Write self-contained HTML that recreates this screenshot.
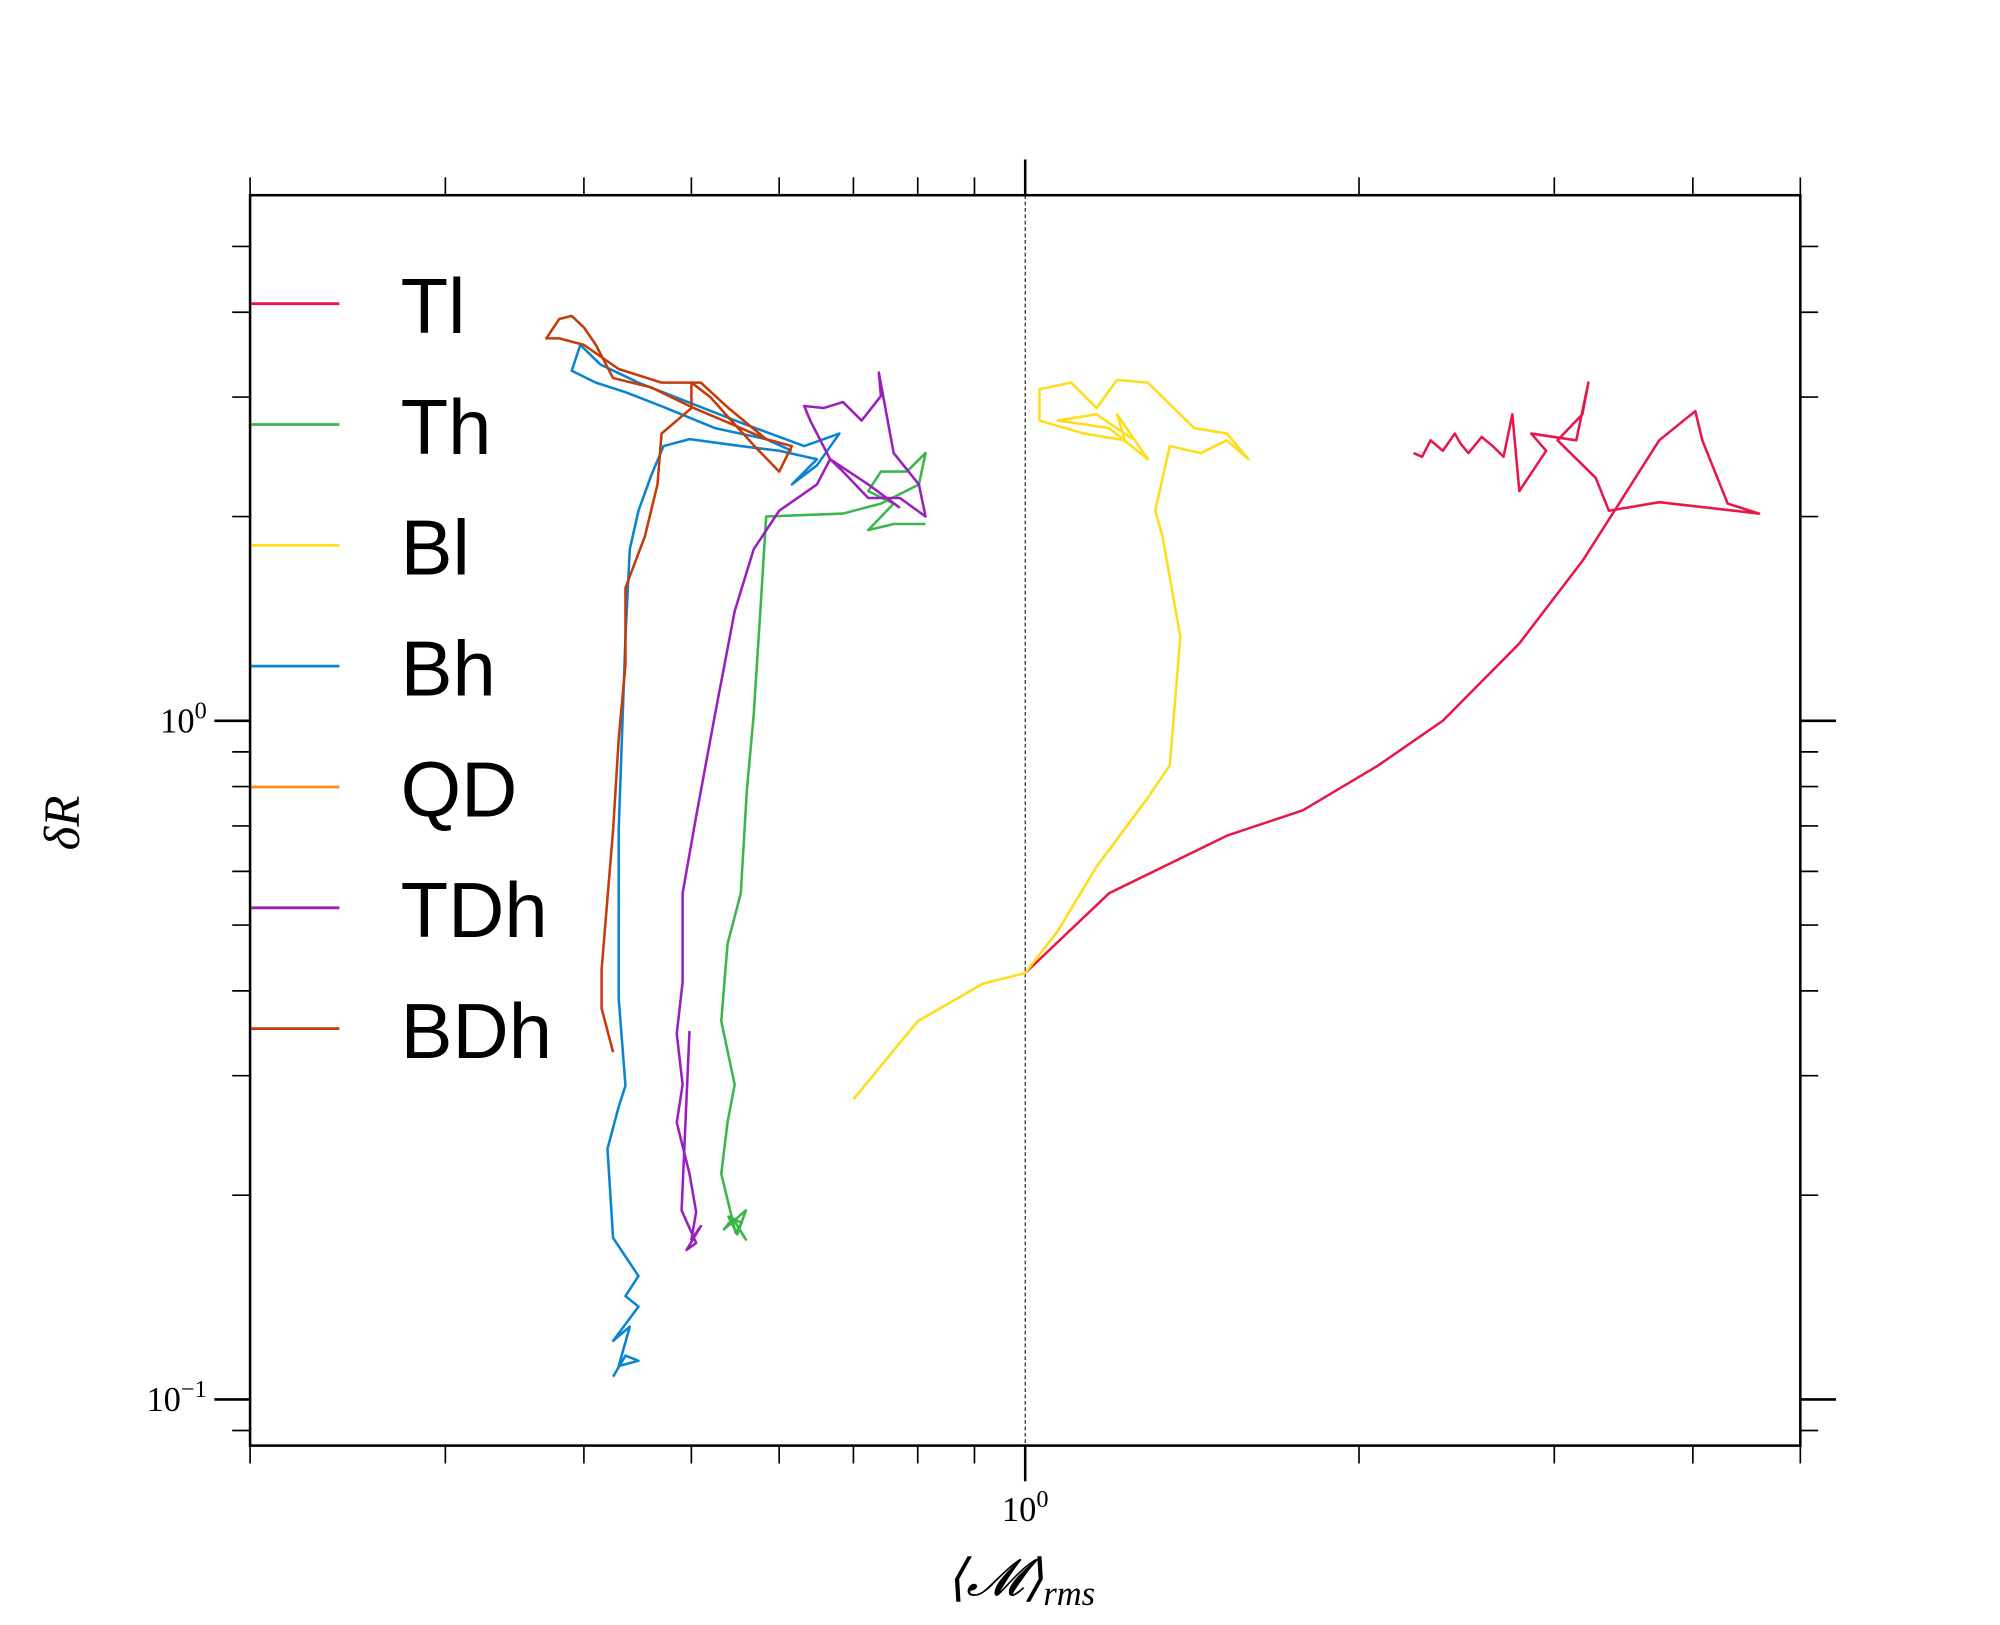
<!DOCTYPE html>
<html><head><meta charset="utf-8"><style>
html,body{margin:0;padding:0;background:#fff;}
svg{display:block;}
text{font-family:"Liberation Serif",serif;}
.leg{font-family:"Liberation Sans",sans-serif;font-size:61px;fill:#000;}
</style></head><body>
<svg id="chart" width="2000" height="1625" viewBox="0 0 1567.5 1273.6" xmlns="http://www.w3.org/2000/svg">
<rect x="0" y="0" width="1567.5" height="1273.6" fill="#fff"/>
<g id="plot"></g>
<g id="axes"></g>
<g id="legend"></g>
<text x="800" y="1250" text-anchor="middle" font-size="40" font-style="italic">⟨𝓜⟩<tspan font-size="27" dy="8">rms</tspan></text>
<text x="62" y="645" text-anchor="middle" font-size="40" font-style="italic" transform="rotate(-90 62 645)">δR</text>
</svg>
<script>
const xDomain=[0.2,5];
const yDomain=[0.0855,5.95];
const seriesNames=["Tl","Th","Bl","Bh","QD","TDh","BDh"];
const seriesColors=["#e8174a","#3cb64a","#ffdd1a","#0b84d0","#ff8c1a","#9b1fbd","#c43c0b"];
const tlM=[1.0,1.19,1.52,1.78,2.08,2.38,2.79,3.18,3.40,3.73,4.02,4.08,4.3,4.59,3.73,3.36,3.27,3.02,3.18,3.22,3.14,2.86,2.95,2.79,2.75,2.7,2.64,2.58,2.51,2.47,2.44,2.38,2.32,2.28,2.24];
const tlR=[0.425,0.557,0.677,0.738,0.859,1.0,1.30,1.72,2.04,2.59,2.86,2.59,2.09,2.02,2.10,2.04,2.28,2.59,2.83,3.15,2.59,2.65,2.5,2.18,2.83,2.45,2.54,2.62,2.48,2.56,2.65,2.5,2.59,2.45,2.48];
const thM=[0.55,0.56,0.545,0.535,0.56,0.55,0.54,0.555,0.548,0.532,0.539,0.547,0.532,0.539,0.554,0.561,0.569,0.577,0.584,0.685,0.741,0.802,0.813,0.782,0.741,0.722,0.761,0.722,0.761,0.813];
const thR=[0.18,0.172,0.185,0.178,0.19,0.175,0.186,0.182,0.176,0.215,0.256,0.291,0.361,0.469,0.557,0.788,1.02,1.45,2.0,2.02,2.09,2.23,2.48,2.33,2.33,2.18,2.09,1.91,1.95,1.95];
const blM=[0.70,0.80,0.916,1.0,1.07,1.16,1.29,1.35,1.38,1.33,1.31,1.35,1.44,1.52,1.59,1.52,1.42,1.29,1.21,1.16,1.10,1.03,1.03,1.13,1.23,1.21,1.29,1.19,1.07,1.16,1.25];
const blR=[0.277,0.361,0.41,0.425,0.49,0.61,0.77,0.86,1.33,1.87,2.04,2.54,2.48,2.59,2.43,2.65,2.70,3.15,3.18,2.89,3.15,3.08,2.77,2.65,2.59,2.83,2.43,2.7,2.77,2.83,2.6];
const bhM=[0.425,0.436,0.448,0.43,0.44,0.425,0.448,0.436,0.448,0.425,0.42,0.43,0.436,0.43,0.43,0.436,0.44,0.448,0.46,0.472,0.498,0.554,0.6,0.649,0.616,0.649,0.68,0.632,0.554,0.448,0.414,0.397,0.39,0.41,0.436,0.472,0.525,0.584,0.616];
const bhR=[0.108,0.116,0.114,0.112,0.128,0.122,0.137,0.142,0.152,0.173,0.234,0.27,0.29,0.39,0.69,1.33,1.79,2.04,2.3,2.54,2.6,2.54,2.5,2.43,2.23,2.38,2.65,2.54,2.75,3.15,3.35,3.58,3.28,3.15,3.05,2.9,2.7,2.6,2.5];
const qdM=[];
const qdR=[];
const tdM=[0.498,0.49,0.505,0.495,0.51,0.5,0.505,0.498,0.485,0.491,0.485,0.491,0.491,0.505,0.525,0.547,0.569,0.6,0.649,0.667,0.64,0.632,0.658,0.685,0.712,0.741,0.738,0.761,0.802,0.813,0.771,0.722,0.685,0.667,0.722,0.771];
const tdR=[0.349,0.19,0.17,0.166,0.18,0.172,0.189,0.215,0.256,0.291,0.346,0.412,0.557,0.723,1.02,1.45,1.79,2.04,2.23,2.43,2.77,2.91,2.89,2.95,2.77,3.01,3.26,2.48,2.23,2.0,2.13,2.13,2.33,2.43,2.23,2.06];
const bdM=[0.425,0.415,0.415,0.425,0.43,0.436,0.436,0.454,0.466,0.47,0.5,0.5,0.52,0.54,0.57,0.6,0.616,0.584,0.54,0.51,0.47,0.43,0.40,0.38,0.37,0.38,0.39,0.40,0.41,0.425,0.46,0.5,0.54,0.584,0.616];
const bdR=[0.325,0.377,0.43,0.69,0.94,1.21,1.57,1.87,2.23,2.65,2.89,3.15,3.0,2.8,2.54,2.33,2.54,2.6,2.89,3.15,3.15,3.3,3.58,3.66,3.66,3.91,3.95,3.8,3.58,3.2,3.1,2.9,2.75,2.6,2.54];
const allM=[tlM,thM,blM,bhM,qdM,tdM,bdM];
const allR=[tlR,thR,blR,bhR,qdR,tdR,bdR];
const xTickMinor=[0.2,0.3,0.4,0.5,0.6,0.7,0.8,0.9,2,3,4,5];
const yTickMinor=[0.09,0.2,0.3,0.4,0.5,0.6,0.7,0.8,0.9,2,3,4,5];
const L=196,R=1411,T=153,B=1133;
const sx=v=>L+(Math.log10(v)-Math.log10(xDomain[0]))/(Math.log10(xDomain[1])-Math.log10(xDomain[0]))*(R-L);
const sy=v=>B-(Math.log10(v)-Math.log10(yDomain[0]))/(Math.log10(yDomain[1])-Math.log10(yDomain[0]))*(B-T);
const NS="http://www.w3.org/2000/svg";
function mk(tag,attrs,parent){const e=document.createElementNS(NS,tag);for(const k in attrs)e.setAttribute(k,attrs[k]);parent.appendChild(e);return e;}
const plot=document.getElementById('plot'),axes=document.getElementById('axes'),legend=document.getElementById('legend');
const vl=mk('line',{x1:sx(1),x2:sx(1),y1:T,y2:B,stroke:'#000','stroke-width':0.8,'stroke-dasharray':'3,2'},plot);


for(let s=0;s<seriesNames.length;s++){
  const M=allM[s],Rv=allR[s];if(!M.length)continue;
  let d='';for(let i=0;i<M.length;i++)d+=(i?'L':'M')+sx(M[i]).toFixed(1)+','+sy(Rv[i]).toFixed(1);
  const p=mk('path',{d:d,fill:'none',stroke:seriesColors[s],'stroke-width':2,'stroke-linejoin':'round'},plot);
  
  
}
const frame=mk('rect',{x:L,y:T,width:R-L,height:B-T,fill:'none',stroke:'#000','stroke-width':2},axes);


xTickMinor.forEach(v=>{const x=sx(v);
  mk('line',{x1:x,x2:x,y1:B,y2:B+14,stroke:'#000','stroke-width':1.3},axes);
  mk('line',{x1:x,x2:x,y1:T,y2:T-14,stroke:'#000','stroke-width':1.3},axes);});
[1].forEach(v=>{const x=sx(v);
  mk('line',{x1:x,x2:x,y1:B,y2:B+28,stroke:'#000','stroke-width':2},axes);
  mk('line',{x1:x,x2:x,y1:T,y2:T-28,stroke:'#000','stroke-width':2},axes);
  const t=mk('text',{x:x,y:1192,'text-anchor':'middle','font-size':27},axes);t.innerHTML='10<tspan font-size="19" dy="-11">0</tspan>';
  
  });
yTickMinor.forEach(v=>{const y=sy(v);
  mk('line',{x1:L,x2:L-14,y1:y,y2:y,stroke:'#000','stroke-width':1.3},axes);
  mk('line',{x1:R,x2:R+14,y1:y,y2:y,stroke:'#000','stroke-width':1.3},axes);});
[[1,'0'],[0.1,'−1']].forEach(([v,e])=>{const y=sy(v);
  mk('line',{x1:L,x2:L-28,y1:y,y2:y,stroke:'#000','stroke-width':2},axes);
  mk('line',{x1:R,x2:R+28,y1:y,y2:y,stroke:'#000','stroke-width':2},axes);
  const t=mk('text',{x:162,y:y+9,'text-anchor':'end','font-size':27},axes);t.innerHTML='10<tspan font-size="19" dy="-11">'+e+'</tspan>';
  
  });
seriesNames.forEach((n,i)=>{const y=238+i*94.7;
  const g=mk('g',{},legend);
  
  
  mk('line',{x1:197,x2:266,y1:y,y2:y,stroke:seriesColors[i],'stroke-width':2.2},g);
  const t=mk('text',{x:314,y:y+23,class:'leg'},g);t.textContent=n;});
</script>
</body></html>
